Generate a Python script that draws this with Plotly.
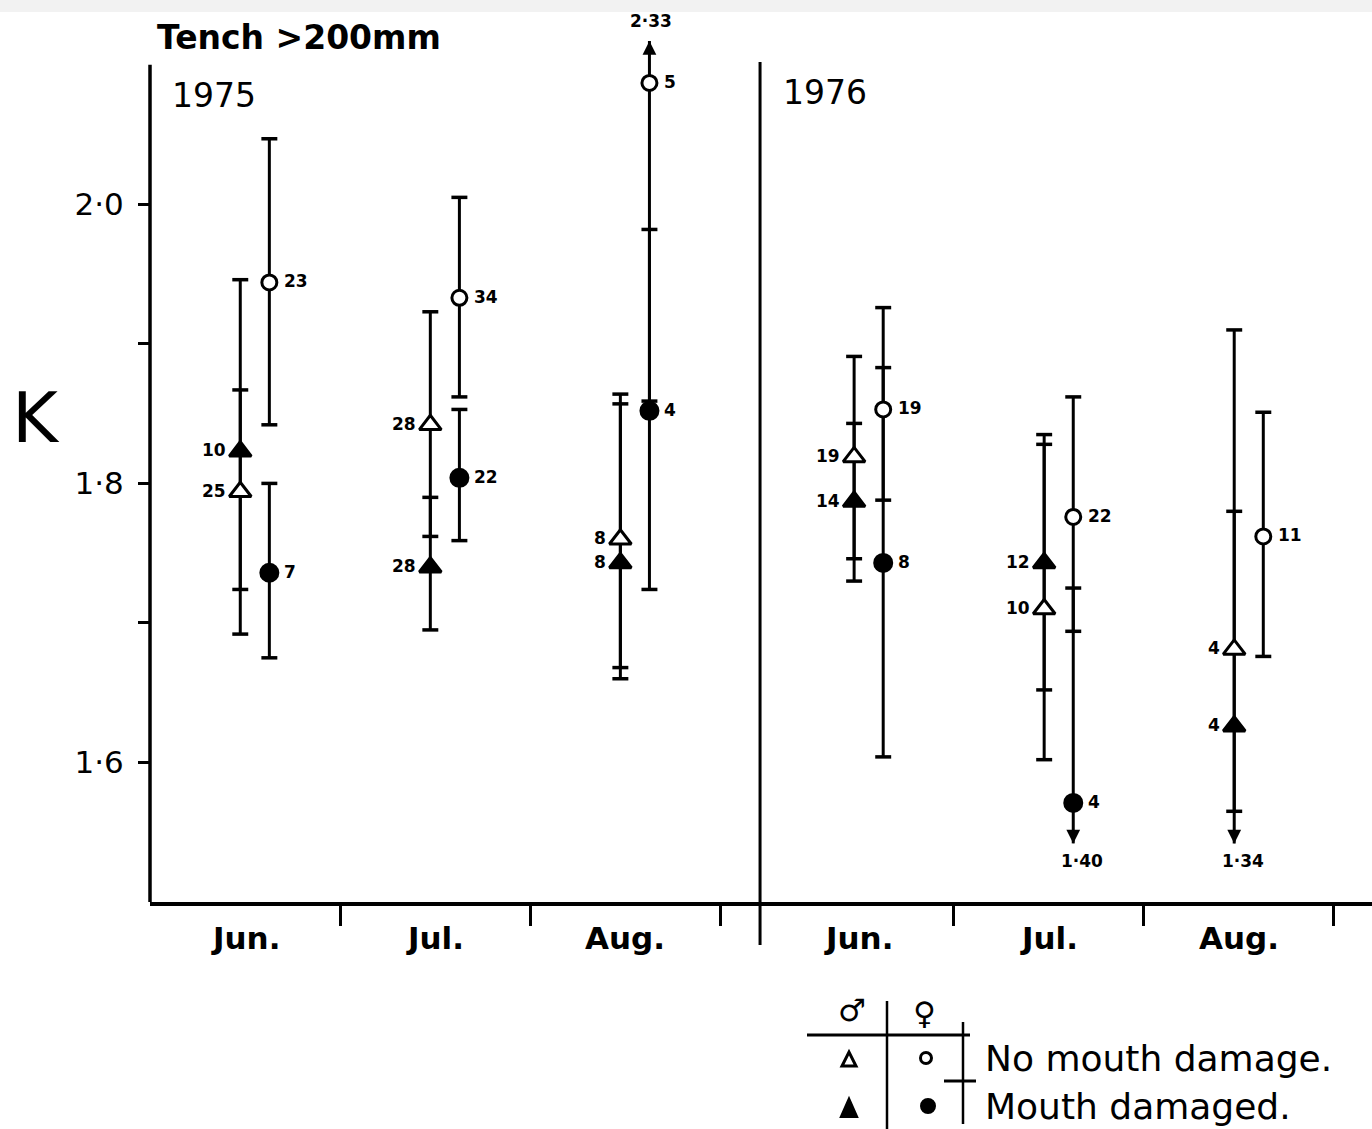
import plotly.graph_objects as go

# ---------------- data ----------------
years = ["1975", "1976"]
months = ["Jun.", "Jul.", "Aug."]

# Mean condition factor K, its lower / upper limits and sample size n for
# 1975 Jun, Jul, Aug and 1976 Jun, Jul, Aug.
male_ok_n = [25, 28, 8, 19, 10, 4]
male_ok_k = [1.794, 1.842, 1.760, 1.819, 1.710, 1.681]
male_ok_lo = [1.724, 1.762, 1.668, 1.746, 1.602, 1.565]
male_ok_hi = [1.867, 1.923, 1.864, 1.891, 1.828, 1.780]

male_dmg_n = [10, 28, 8, 14, 12, 4]
male_dmg_k = [1.823, 1.740, 1.743, 1.787, 1.743, 1.626]
male_dmg_lo = [1.692, 1.695, 1.660, 1.730, 1.652, 1.34]
male_dmg_hi = [1.946, 1.790, 1.857, 1.843, 1.835, 1.910]

female_ok_n = [23, 34, 5, 19, 22, 11]
female_ok_k = [1.944, 1.933, 2.087, 1.853, 1.776, 1.762]
female_ok_lo = [1.842, 1.862, 1.859, 1.788, 1.694, 1.676]
female_ok_hi = [2.047, 2.005, 2.33, 1.926, 1.862, 1.851]

female_dmg_n = [7, 22, 4, 8, 4, None]
female_dmg_k = [1.736, 1.804, 1.852, 1.743, 1.571, None]
female_dmg_lo = [1.675, 1.759, 1.724, 1.604, 1.40, None]
female_dmg_hi = [1.800, 1.853, 1.982, 1.883, 1.725, None]

y_ticks = [1.6, 1.7, 1.8, 1.9, 2.0]
y_tick_text = ["1·6", "", "1·8", "", "2·0"]

key_rows = ["No mouth damage.", "Mouth damaged."]
key_cols = ["♂", "♀"]

# ---------------- layout geometry ----------------
W, H = 1372, 1129
ML, MR, MT, MB = 150, 0, 9, 227
X_RANGE = [0, 6.43]
Y_RANGE = [1.5, 2.14]
K_AXIS_TOP = 2.1          # top of the drawn K axis
K_ARROW_TOP = 2.117       # bars running off the top end in an arrow here
K_ARROW_BOTTOM = 1.542    # ... and off the bottom here

year_start = [0.0, 3.23]
slot_starts = [s + m for s in year_start for m in range(len(months))]
slot_mid = [s + 0.5 for s in slot_starts]
slot_edges = [s + 1.0 for s in slot_starts]
centres = [m + 0.05 for m in slot_mid]
divider_x = 3.21
TRI_DX, CIRC_DX = -0.075, 0.078
CAP = 0.042

FONT = "DejaVu Sans"


def px_x(p):
    return (p - ML) / (W - ML - MR)


def px_y(p):
    return (H - MB - p) / (H - MT - MB)


def dx_paper(x):
    return (x - X_RANGE[0]) / (X_RANGE[1] - X_RANGE[0])


def fmt(v):
    return f"{v:.2f}".replace(".", "·")


def font(size, weight="normal"):
    return dict(family=FONT, size=size, color="black", weight=weight)


series = [
    dict(name="male, no mouth damage", n=male_ok_n, k=male_ok_k, lo=male_ok_lo,
         hi=male_ok_hi, dx=TRI_DX, symbol="triangle-up", fill="white", size=19,
         side=-1),
    dict(name="male, mouth damaged", n=male_dmg_n, k=male_dmg_k, lo=male_dmg_lo,
         hi=male_dmg_hi, dx=TRI_DX, symbol="triangle-up", fill="black", size=19,
         side=-1),
    dict(name="female, no mouth damage", n=female_ok_n, k=female_ok_k, lo=female_ok_lo,
         hi=female_ok_hi, dx=CIRC_DX, symbol="circle", fill="white", size=15,
         side=1),
    dict(name="female, mouth damaged", n=female_dmg_n, k=female_dmg_k, lo=female_dmg_lo,
         hi=female_dmg_hi, dx=CIRC_DX, symbol="circle", fill="black", size=17,
         side=1),
]

fig = go.Figure()
annotations = []

# vertical limit bars, end caps and off-scale arrows
bar_x, bar_y, cap_x, cap_y = [], [], [], []
for s in series:
    for i, c in enumerate(centres):
        if s["k"][i] is None:
            continue
        x = c + s["dx"]
        lo, hi = s["lo"][i], s["hi"][i]
        bar_x += [x, x, None]
        bar_y += [max(lo, K_ARROW_BOTTOM), min(hi, K_ARROW_TOP), None]
        for end in (lo, hi):
            if Y_RANGE[0] <= end <= K_AXIS_TOP:
                cap_x += [x - CAP, x + CAP, None]
                cap_y += [end, end, None]
        if hi > K_AXIS_TOP:
            annotations.append(dict(x=x, y=K_ARROW_TOP, xref="x", yref="y", text="",
                                    showarrow=True, ax=0, ay=14, arrowhead=2,
                                    arrowsize=1.1, arrowwidth=2.5, arrowcolor="black"))
            annotations.append(dict(x=x, y=K_ARROW_TOP, xref="x", yref="y", text=fmt(hi),
                                    showarrow=False, yshift=20, xshift=2,
                                    font=font(17, "bold")))
        if lo < Y_RANGE[0] + 0.04:
            annotations.append(dict(x=x, y=K_ARROW_BOTTOM, xref="x", yref="y", text="",
                                    showarrow=True, ax=0, ay=-14, arrowhead=2,
                                    arrowsize=1.1, arrowwidth=2.5, arrowcolor="black"))
            annotations.append(dict(x=x, y=K_ARROW_BOTTOM, xref="x", yref="y", text=fmt(lo),
                                    showarrow=False, yshift=-18, xshift=9,
                                    font=font(17, "bold")))

fig.add_trace(go.Scatter(x=bar_x, y=bar_y, mode="lines", hoverinfo="skip",
                         line=dict(color="black", width=3), showlegend=False))
fig.add_trace(go.Scatter(x=cap_x, y=cap_y, mode="lines", hoverinfo="skip",
                         line=dict(color="black", width=3.5), showlegend=False))

# mean markers, each with its sample size beside it
for s in series:
    xs, ys = [], []
    for i, c in enumerate(centres):
        if s["k"][i] is None:
            continue
        x = c + s["dx"]
        xs.append(x)
        ys.append(s["k"][i])
        annotations.append(dict(
            x=x, y=s["k"][i], xref="x", yref="y", text=str(s["n"][i]),
            showarrow=False, xanchor="right" if s["side"] < 0 else "left",
            xshift=-12 if s["side"] < 0 else 13, yshift=1, font=font(17, "bold")))
    fig.add_trace(go.Scatter(
        x=xs, y=ys, mode="markers", name=s["name"], cliponaxis=False,
        showlegend=False,
        marker=dict(symbol=s["symbol"], size=s["size"], color=s["fill"],
                    line=dict(color="black", width=3)),
    ))

shapes = []
# K axis line
shapes.append(dict(type="line", xref="paper", yref="y", x0=0, x1=0,
                   y0=Y_RANGE[0], y1=K_AXIS_TOP, line=dict(color="black", width=3.5)))
# year divider
shapes.append(dict(type="line", xref="paper", yref="paper",
                   x0=dx_paper(divider_x), x1=dx_paper(divider_x),
                   y0=px_y(945), y1=px_y(62), line=dict(color="black", width=3)))
# faint band along the top edge of the sheet
shapes.append(dict(type="rect", xref="paper", yref="paper", layer="below",
                   x0=px_x(0), x1=px_x(W), y0=px_y(12), y1=px_y(0),
                   fillcolor="#f2f2f2", line=dict(width=0)))

# key table rules
shapes += [
    dict(type="line", xref="paper", yref="paper", x0=px_x(807), x1=px_x(970),
         y0=px_y(1035), y1=px_y(1035), line=dict(color="black", width=3)),
    dict(type="line", xref="paper", yref="paper", x0=px_x(887), x1=px_x(887),
         y0=px_y(1001), y1=px_y(1129), line=dict(color="black", width=2.5)),
    dict(type="line", xref="paper", yref="paper", x0=px_x(963), x1=px_x(963),
         y0=px_y(1022), y1=px_y(1124), line=dict(color="black", width=2.5)),
    dict(type="line", xref="paper", yref="paper", x0=px_x(944), x1=px_x(976),
         y0=px_y(1081), y1=px_y(1081), line=dict(color="black", width=3)),
]


def key_triangle(cx, cy, w, h, fill):
    p = (f"M {px_x(cx - w / 2)} {px_y(cy + h / 2)} L {px_x(cx + w / 2)} {px_y(cy + h / 2)} "
         f"L {px_x(cx)} {px_y(cy - h / 2)} Z")
    shapes.append(dict(type="path", xref="paper", yref="paper", path=p,
                       fillcolor=fill, line=dict(color="black", width=3)))


def key_circle(cx, cy, d, fill):
    shapes.append(dict(type="circle", xref="paper", yref="paper",
                       x0=px_x(cx - d / 2), x1=px_x(cx + d / 2),
                       y0=px_y(cy + d / 2), y1=px_y(cy - d / 2),
                       fillcolor=fill, line=dict(color="black", width=3)))


# key symbols: open = no mouth damage, filled = mouth damaged
key_triangle(849, 1059, 14, 14, "white")
key_circle(926, 1058, 11, "white")
key_triangle(849, 1108, 15, 17, "black")
key_circle(928, 1106, 13, "black")


def text_at(px, py, text, size, xanchor="center", weight="normal"):
    annotations.append(dict(x=px_x(px), y=px_y(py), xref="paper", yref="paper",
                            text=text, showarrow=False, xanchor=xanchor,
                            yanchor="middle", font=font(size, weight)))


text_at(155, 38, "Tench >200mm", 33, xanchor="left", weight="bold")
text_at(170, 95, years[0], 33, xanchor="left")
text_at(781, 92, years[1], 33, xanchor="left")
text_at(36, 418, "K", 70)

for i, m in enumerate(slot_mid):
    annotations.append(dict(x=m, y=px_y(938), xref="x", yref="paper",
                            text=months[i % len(months)], showarrow=False,
                            yanchor="middle", font=font(31, "bold")))

text_at(852, 1010, key_cols[0], 31, weight="bold")
text_at(925, 1013, key_cols[1], 31, weight="bold")
text_at(983, 1058, key_rows[0], 36, xanchor="left")
text_at(983, 1106, key_rows[1], 36, xanchor="left")

fig.update_layout(
    width=W, height=H,
    margin=dict(l=ML, r=MR, t=MT, b=MB, pad=0),
    paper_bgcolor="white", plot_bgcolor="white",
    shapes=shapes, annotations=annotations,
    xaxis=dict(range=X_RANGE, showgrid=False, zeroline=False, showline=True,
               linecolor="black", linewidth=4, ticks="outside", ticklen=20,
               tickwidth=3, tickcolor="black", tickvals=slot_edges,
               showticklabels=False, fixedrange=True),
    yaxis=dict(range=Y_RANGE, showgrid=False, zeroline=False, showline=False,
               ticks="outside", ticklen=11, tickwidth=3, tickcolor="black",
               tickvals=y_ticks, ticktext=y_tick_text, ticklabelstandoff=8,
               tickfont=font(31), fixedrange=True),
)

fig.write_html("out.html")
